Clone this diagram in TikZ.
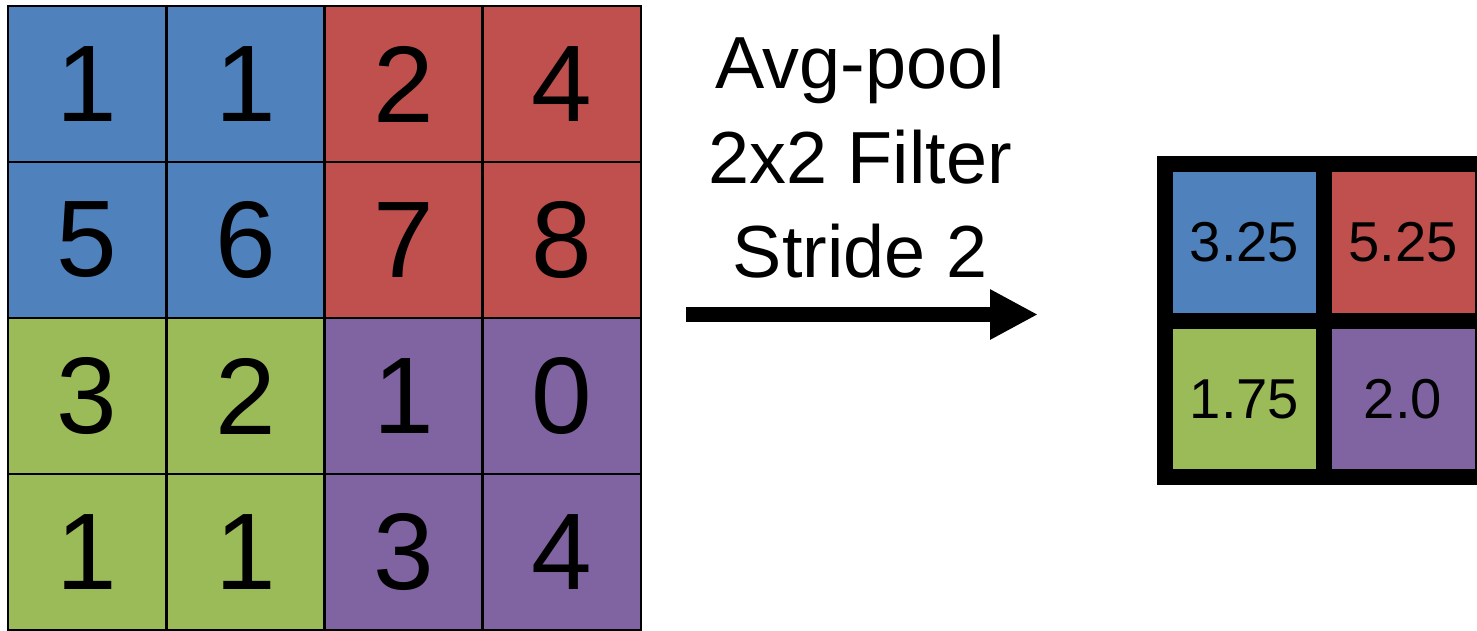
\documentclass[tikz,border=0pt]{standalone}
\usepackage{fontspec}
\setmainfont{Liberation Sans}
\usetikzlibrary{arrows.meta}
\definecolor{cblue}{HTML}{4F81BD}
\definecolor{cred}{HTML}{C0504D}
\definecolor{cgreen}{HTML}{9BBB59}
\definecolor{cpurple}{HTML}{8064A2}
\begin{document}
\begin{tikzpicture}[
    x=0.02cm, y=-0.02cm,
    incell/.style={draw, line width=0.05cm, minimum width=3.165cm, minimum height=3.12cm,
        inner sep=0pt, font=\fontsize{62}{70}\selectfont},
    outcell/.style={draw, line width=0.32cm, minimum width=3.18cm, minimum height=3.13cm,
        inner sep=0pt, font=\fontsize{32}{38}\selectfont},
    caption/.style={anchor=base, font=\fontsize{42}{50}\selectfont},
    pool/.style={line width=0.3cm, -{Triangle[length=0.96cm,width=0.94cm]}}
]
\useasboundingbox (0,0) rectangle (1477,630);
% input feature map
\foreach \val/\col [count=\k from 0] in {1/cblue,1/cblue,2/cred,4/cred,
        5/cblue,6/cblue,7/cred,8/cred,
        3/cgreen,2/cgreen,1/cpurple,0/cpurple,
        1/cgreen,1/cgreen,3/cpurple,4/cpurple}{
    \pgfmathtruncatemacro{\row}{div(\k,4)}
    \pgfmathtruncatemacro{\clm}{mod(\k,4)}
    \node[incell, fill=\col] (in-\row-\clm) at ({8+158.25*(\clm+0.5)},{6+156*(\row+0.5)}) {\val};
}
% caption and arrow
\node[caption] (cap1) at (860,88) {Avg-pool};
\node[caption] (cap2) at (860,183) {2x2 Filter};
\node[caption] (cap3) at (860,277) {Stride 2};
\coordinate (arrtail) at (686,314.5);
\coordinate (arrtip) at (1038,314.5);
\draw[pool] (arrtail) -- (arrtip);
% pooled output
\node[outcell, fill=cblue] (out-0-0) at (1244.5,242.5) {3.25};
\node[outcell, fill=cred] (out-0-1) at (1403,242.5) {5.25};
\node[outcell, fill=cgreen] (out-1-0) at (1244.5,399) {1.75};
\node[outcell, fill=cpurple] (out-1-1) at (1403,399) {2.0};
\end{tikzpicture}
\end{document}
